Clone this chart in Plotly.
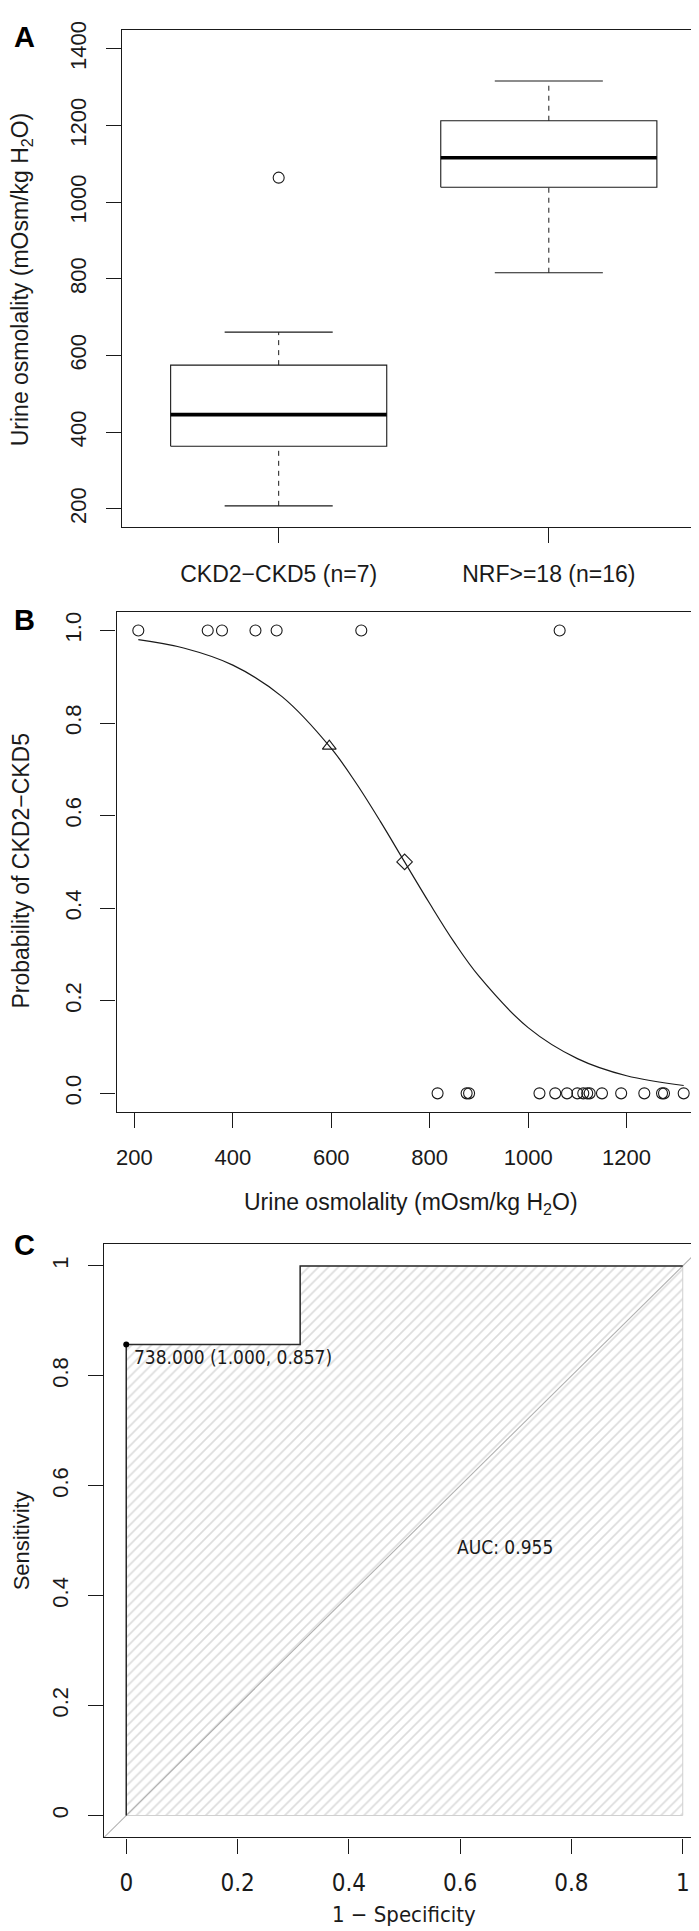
import numpy as np
import plotly.graph_objects as go

# ---------------- data ----------------
groups = ["CKD2\u2212CKD5 (n=7)", "NRF>=18 (n=16)"]
ckd_osm = [208, 349, 378, 446, 489, 661, 1064]
nrf_osm = [816, 875, 880, 1023, 1055, 1079, 1100, 1112, 1120, 1125, 1150, 1189, 1236, 1272, 1276, 1316]
box_ylim = [200, 1400]
a_yticks = [200, 400, 600, 800, 1000, 1200, 1400]

# fitted logistic curve
curve_osm = [208, 300, 400, 500, 600, 650, 700, 749, 800, 850, 900, 1000, 1100, 1200, 1316]
curve_prob = [0.980, 0.962, 0.925, 0.857, 0.745, 0.671, 0.587, 0.500, 0.410, 0.326, 0.253, 0.142, 0.075, 0.038, 0.017]
tri_osm, tri_prob = [596], [0.75]
dia_osm, dia_prob = [749], [0.5]
b_xticks = [200, 400, 600, 800, 1000, 1200]
b_yticks = [0.0, 0.2, 0.4, 0.6, 0.8, 1.0]

# ROC curve (1 - specificity, sensitivity)
roc_fpr = [0, 0, 0.3125, 0.3125, 1]
roc_tpr = [0, 0.857, 0.857, 1, 1]
best_fpr, best_tpr = [0], [0.857]
best_label = "738.000 (1.000, 0.857)"
auc_label = "AUC: 0.955"
auc_pos = [0.59, 0.488]
c_ticks = [0, 0.2, 0.4, 0.6, 0.8, 1]
c_ticktext = ["0", "0.2", "0.4", "0.6", "0.8", "1"]

# ---------------- helpers ----------------
W, H = 699, 1931
INK = "#1a1a1a"
SANS = "Liberation Sans, Arial, sans-serif"
DEJ = "DejaVu Sans Condensed, DejaVu Sans, sans-serif"


def fivenum(v):
    x = np.sort(np.asarray(v, float))
    n = len(x)
    n4 = np.floor((n + 3) / 2) / 2
    d = np.array([1, n4, (n + 1) / 2, n + 1 - n4, n]) - 1
    return 0.5 * (x[np.floor(d).astype(int)] + x[np.ceil(d).astype(int)])


def box_stats(v):
    s = fivenum(v)
    iqr = s[3] - s[1]
    lo, hi = s[1] - 1.5 * iqr, s[3] + 1.5 * iqr
    inside = [a for a in v if lo <= a <= hi]
    out = [a for a in v if a < lo or a > hi]
    return dict(q1=s[1], med=s[2], q3=s[3], wlo=min(inside), whi=max(inside), out=out)


def ext(lo, hi, f=0.04):
    r = hi - lo
    return [lo - f * r, hi + f * r]


def dom_x(x0, x1):
    return [x0 / W, x1 / W]


def dom_y(y0, y1):
    return [1 - y1 / H, 1 - y0 / H]


def py(p):
    return 1 - p / H


# panel boxes in pixels (left, right, top, bottom)
PA = (114, 697.5, 13.5, 512.7)
PB = (108.5, 697.5, 597.7, 1100)
PC = (96, 697, 1232.7, 1829)

fig = go.Figure()

# ---------------- Panel A ----------------
bw = 0.4
for i, vals in enumerate([ckd_osm, nrf_osm]):
    c = i + 1
    st = box_stats(vals)
    fig.add_trace(go.Scatter(x=[c, c, None, c, c], y=[st["wlo"], st["q1"], None, st["q3"], st["whi"]],
                             mode="lines", line=dict(color=INK, width=1, dash="5px,5px"),
                             xaxis="x", yaxis="y", showlegend=False, hoverinfo="skip"))
    fig.add_trace(go.Scatter(x=[c - bw / 2, c + bw / 2, None, c - bw / 2, c + bw / 2],
                             y=[st["wlo"], st["wlo"], None, st["whi"], st["whi"]],
                             mode="lines", line=dict(color=INK, width=1.1),
                             xaxis="x", yaxis="y", showlegend=False, hoverinfo="skip"))
    fig.add_trace(go.Scatter(x=[c - bw, c + bw, c + bw, c - bw, c - bw],
                             y=[st["q1"], st["q1"], st["q3"], st["q3"], st["q1"]],
                             mode="lines", line=dict(color=INK, width=1.1),
                             xaxis="x", yaxis="y", showlegend=False, hoverinfo="skip"))
    fig.add_trace(go.Scatter(x=[c - bw, c + bw], y=[st["med"], st["med"]],
                             mode="lines", line=dict(color="black", width=3.6),
                             xaxis="x", yaxis="y", showlegend=False, hoverinfo="skip"))
    if st["out"]:
        fig.add_trace(go.Scatter(x=[c] * len(st["out"]), y=st["out"], mode="markers",
                                 marker=dict(symbol="circle-open", size=11, color=INK, line=dict(width=1.1)),
                                 xaxis="x", yaxis="y", showlegend=False, hoverinfo="skip"))

# ---------------- Panel B ----------------
fig.add_trace(go.Scatter(x=curve_osm, y=curve_prob, mode="lines", line=dict(color=INK, width=1.2, shape="spline"),
                         xaxis="x2", yaxis="y2", showlegend=False, hoverinfo="skip"))
fig.add_trace(go.Scatter(x=ckd_osm, y=[1] * len(ckd_osm), mode="markers",
                         marker=dict(symbol="circle-open", size=11, color=INK, line=dict(width=1.1)),
                         xaxis="x2", yaxis="y2", showlegend=False, hoverinfo="skip"))
fig.add_trace(go.Scatter(x=nrf_osm, y=[0] * len(nrf_osm), mode="markers",
                         marker=dict(symbol="circle-open", size=11, color=INK, line=dict(width=1.1)),
                         xaxis="x2", yaxis="y2", showlegend=False, hoverinfo="skip"))
fig.add_trace(go.Scatter(x=tri_osm, y=tri_prob, mode="markers",
                         marker=dict(symbol="triangle-up-open", size=12, color=INK, line=dict(width=1.1)),
                         xaxis="x2", yaxis="y2", showlegend=False, hoverinfo="skip"))
fig.add_trace(go.Scatter(x=dia_osm, y=dia_prob, mode="markers",
                         marker=dict(symbol="diamond-open", size=12, color=INK, line=dict(width=1.1)),
                         xaxis="x2", yaxis="y2", showlegend=False, hoverinfo="skip"))

# ---------------- Panel C ----------------
poly_x = roc_fpr + [roc_fpr[-1], roc_fpr[0]]
poly_y = roc_tpr + [0, roc_tpr[0]]
fig.add_trace(go.Scatter(x=poly_x, y=poly_y, mode="lines", fill="toself",
                         fillcolor="rgba(0,0,0,0)",
                         fillpattern=dict(shape="/", fgcolor="#bababa", bgcolor="white", size=7, solidity=0.24),
                         line=dict(color="#d0d0d0", width=1),
                         xaxis="x3", yaxis="y3", showlegend=False, hoverinfo="skip"))
c_rng = ext(0, 1)
fig.add_trace(go.Scatter(x=c_rng, y=c_rng, mode="lines", line=dict(color="#b0b0b0", width=1.1),
                         xaxis="x3", yaxis="y3", showlegend=False, hoverinfo="skip"))
fig.add_trace(go.Scatter(x=roc_fpr, y=roc_tpr, mode="lines", line=dict(color="#2a2a2a", width=1.5),
                         xaxis="x3", yaxis="y3", showlegend=False, hoverinfo="skip"))
fig.add_trace(go.Scatter(x=best_fpr, y=best_tpr, mode="markers", marker=dict(color="black", size=6),
                         xaxis="x3", yaxis="y3", showlegend=False, hoverinfo="skip"))

# ---------------- axes ----------------
frame = dict(showline=True, linecolor=INK, linewidth=1.2, mirror=True, ticks="outside",
             ticklen=15, tickwidth=1.1, tickcolor=INK, showgrid=False, zeroline=False)

all_osm = ckd_osm + nrf_osm
fig.update_layout(
    xaxis=dict(domain=dom_x(PA[0], PA[1]), anchor="y", range=ext(0.5, 2.5), tickvals=[1, 2], ticktext=groups,
               tickfont=dict(family=SANS, size=23, color=INK), ticklabelstandoff=11, **frame),
    yaxis=dict(domain=dom_y(PA[2], PA[3]), anchor="x", range=ext(*box_ylim), tickvals=a_yticks, tickangle=-90,
               tickfont=dict(family=SANS, size=22, color=INK), ticklabelstandoff=11, **frame),
    xaxis2=dict(domain=dom_x(PB[0], PB[1]), anchor="y2", range=ext(min(all_osm), max(all_osm)), tickvals=b_xticks,
                tickfont=dict(family=SANS, size=22, color=INK), ticklabelstandoff=11, **frame),
    yaxis2=dict(domain=dom_y(PB[2], PB[3]), anchor="x2", range=ext(0, 1), tickvals=b_yticks, tickformat=".1f",
                tickangle=-90, tickfont=dict(family=SANS, size=22, color=INK), ticklabelstandoff=11, **frame),
    xaxis3=dict(domain=dom_x(PC[0], PC[1]), anchor="y3", range=c_rng, tickvals=c_ticks, ticktext=c_ticktext,
                tickfont=dict(family=DEJ, size=24, color=INK), ticklabelstandoff=9, **frame),
    yaxis3=dict(domain=dom_y(PC[2], PC[3]), anchor="x3", range=c_rng, tickvals=c_ticks, ticktext=c_ticktext,
                tickangle=-90, tickfont=dict(family=SANS, size=22, color=INK), ticklabelstandoff=11, **frame),
)

ann = []
# panel letters
for lab, ypx in [("A", 20), ("B", 606), ("C", 1234)]:
    ann.append(dict(text="<b>%s</b>" % lab, x=16 / W, y=py(ypx), xref="paper", yref="paper",
                    xanchor="center", yanchor="middle", showarrow=False,
                    font=dict(family=SANS, size=29, color="black")))
# axis titles
ann.append(dict(text="Urine osmolality (mOsm/kg H<sub>2</sub>O)", x=13.5 / W, y=py(264), xref="paper", yref="paper",
                textangle=-90, xanchor="center", yanchor="middle", showarrow=False,
                font=dict(family=SANS, size=23, color=INK)))
ann.append(dict(text="Probability of CKD2\u2212CKD5", x=13.5 / W, y=py(858), xref="paper", yref="paper",
                textangle=-90, xanchor="center", yanchor="middle", showarrow=False,
                font=dict(family=SANS, size=23, color=INK)))
ann.append(dict(text="Urine osmolality (mOsm/kg H<sub>2</sub>O)", x=403 / W, y=py(1192), xref="paper", yref="paper",
                xanchor="center", yanchor="middle", showarrow=False,
                font=dict(family=SANS, size=23, color=INK)))
ann.append(dict(text="Sensitivity", x=13.5 / W, y=py(1531), xref="paper", yref="paper",
                textangle=-90, xanchor="center", yanchor="middle", showarrow=False,
                font=dict(family=SANS, size=22, color=INK)))
ann.append(dict(text="1 \u2212 Specificity", x=396 / W, y=py(1906), xref="paper", yref="paper",
                xanchor="center", yanchor="middle", showarrow=False,
                font=dict(family=DEJ, size=22, color=INK)))
# panel C texts
ann.append(dict(text=best_label, x=best_fpr[0], y=best_tpr[0], xref="x3", yref="y3",
                xanchor="left", yanchor="middle", xshift=6, yshift=-12, showarrow=False,
                font=dict(family=DEJ, size=19, color=INK)))
ann.append(dict(text=auc_label, x=auc_pos[0], y=auc_pos[1], xref="x3", yref="y3",
                xanchor="left", yanchor="middle", showarrow=False,
                font=dict(family=DEJ, size=19, color=INK)))

fig.update_layout(width=W, height=H, margin=dict(l=0, r=0, t=0, b=0),
                  paper_bgcolor="white", plot_bgcolor="white", showlegend=False,
                  annotations=ann)

fig.write_html("out.html", config={"displayModeBar": False})
